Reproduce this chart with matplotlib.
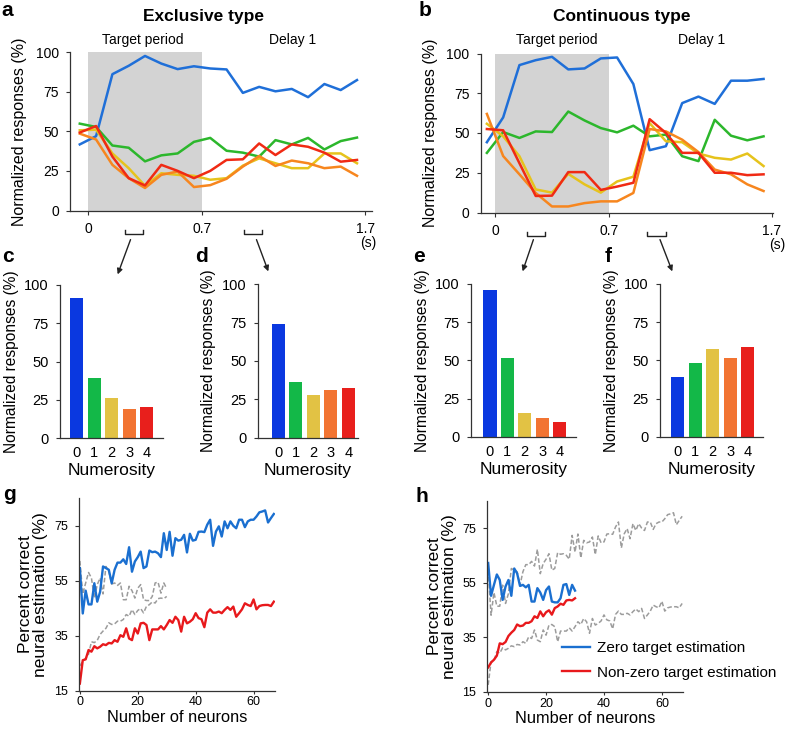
import matplotlib
matplotlib.use("Agg")
import matplotlib.pyplot as plt
from matplotlib.patches import FancyArrowPatch
import matplotlib.transforms as mtransforms

plt.rcParams['font.family'] = ['Liberation Sans', 'DejaVu Sans']

# ---- data ----
# time bins (s) for panels a and b
t_bins = [-0.05, 0.05, 0.15, 0.25, 0.35, 0.45, 0.55, 0.65, 0.75,
          0.85, 0.95, 1.05, 1.15, 1.25, 1.35, 1.45, 1.55, 1.65]

a_blue = [41.7, 46.9, 86.0, 91.3, 97.5, 92.7, 89.2, 91.0, 89.6, 89.0, 74.2, 78.0, 75.2, 76.7, 71.5, 79.8, 76.0, 82.3]
a_green = [54.8, 52.7, 41.0, 39.6, 31.0, 34.8, 36.0, 43.3, 45.8, 37.7, 36.5, 34.0, 44.4, 41.7, 45.8, 38.5, 43.8, 46.0]
a_yellow = [50.6, 51.0, 36.0, 26.7, 15.6, 23.5, 22.5, 21.9, 19.4, 20.4, 28.3, 32.9, 29.8, 26.7, 26.7, 36.0, 36.0, 29.8]
a_orange = [48.5, 44.8, 28.8, 20.4, 14.2, 22.5, 24.6, 14.8, 16.0, 20.0, 27.7, 34.4, 28.1, 31.5, 29.8, 26.7, 27.7, 21.9]
a_red = [49.2, 53.3, 34.0, 20.4, 15.8, 28.8, 25.0, 20.4, 25.0, 31.9, 32.3, 42.3, 35.0, 41.7, 40.2, 36.5, 30.8, 31.9]

b_blue = [44.2, 59.8, 92.7, 95.8, 97.9, 90.0, 90.6, 96.9, 97.5, 80.8, 39.2, 41.7, 68.8, 72.9, 68.3, 82.9, 82.9, 84.0]
b_green = [37.5, 50.6, 46.9, 51.0, 50.6, 63.5, 57.9, 53.1, 50.4, 54.6, 47.9, 49.0, 35.4, 32.3, 58.3, 48.3, 45.4, 47.9]
b_yellow = [55.8, 47.9, 35.4, 14.5, 12.5, 24.3, 17.7, 12.5, 19.5, 22.5, 56.2, 44.8, 44.2, 37.1, 34.4, 33.3, 37.1, 29.2]
b_orange = [62.0, 35.5, 24.0, 12.3, 3.8, 3.8, 5.9, 7.0, 7.0, 12.3, 52.5, 51.0, 45.8, 38.0, 27.0, 24.0, 17.7, 13.5]
b_red = [52.5, 51.7, 31.0, 10.4, 10.6, 25.4, 25.4, 14.2, 16.3, 18.7, 58.7, 50.0, 37.5, 37.5, 25.0, 25.0, 23.5, 24.0]

numerosity = [0, 1, 2, 3, 4]
c_vals = [91.5, 39.2, 26.2, 19.0, 20.1]
d_vals = [74.1, 36.1, 27.8, 30.9, 32.5]
e_vals = [96.1, 51.3, 15.3, 12.4, 9.8]
f_vals = [39.3, 48.5, 57.2, 51.3, 59.0]

# panel g (exclusive type) decoding accuracy vs number of neurons
g_zero = [59.6, 43.1, 51.4, 46.4, 46.4, 54.1, 47.4, 51.0, 60.2, 59.6,
          59.0, 54.1, 59.0, 61.6, 61.6, 62.8, 61.1, 67.2, 58.3, 62.0,
          63.6, 65.6, 59.6, 60.2, 66.0, 65.4, 65.6, 65.0, 63.6, 72.3,
          66.2, 72.8, 64.1, 70.5, 69.6, 69.9, 71.7, 65.3, 72.1, 69.6,
          69.9, 72.8, 72.9, 72.7, 75.4, 77.2, 67.7, 72.9, 74.8, 71.1,
          76.6, 74.1, 76.6, 75.0, 74.1, 77.2, 77.2, 74.5, 76.6, 77.2,
          77.2, 78.4, 79.9, 80.2, 80.6, 76.2, 77.8, 79.3]
g_nonzero = [17.6, 26.1, 26.4, 29.8, 29.2, 31.2, 30.4, 31.0, 31.9, 31.6,
             32.4, 32.2, 33.4, 32.8, 35.2, 34.6, 37.7, 34.0, 33.4, 37.7,
             35.8, 39.5, 39.7, 38.9, 33.4, 37.3, 37.3, 37.3, 38.5, 37.3,
             38.9, 40.7, 39.7, 41.9, 40.7, 36.5, 41.9, 39.5, 40.1, 41.0,
             43.2, 41.4, 41.0, 38.1, 43.4, 44.6, 43.4, 43.4, 43.8, 43.2,
             44.4, 45.4, 44.4, 45.6, 41.9, 43.2, 44.6, 46.8, 46.2, 45.8,
             48.2, 44.6, 45.8, 46.1, 46.2, 46.2, 45.8, 47.4]

# panel h (continuous type)
h_zero = [62.2, 50.2, 54.2, 58.0, 56.0, 48.7, 53.6, 56.0, 50.2, 60.2,
          58.4, 53.8, 54.2, 53.3, 54.2, 48.1, 48.1, 53.0, 51.4, 48.7,
          52.3, 53.6, 48.1, 47.8, 47.8, 49.3, 54.2, 54.5, 50.5, 54.2, 52.1]
h_nonzero = [24.0, 25.8, 26.8, 28.3, 32.8, 32.5, 33.3, 35.5, 36.7, 37.7,
             39.7, 39.1, 39.3, 40.3, 40.3, 40.9, 42.7, 42.1, 44.5, 42.7,
             44.2, 44.9, 43.3, 45.7, 46.3, 47.3, 46.9, 48.5, 48.7, 48.5, 49.3]

g_n = list(range(len(g_zero)))
h_n = list(range(len(h_zero)))

line_colors = ['#1f6fd8', '#2cb72c', '#e6c31c', '#f7861e', '#f02a14']
bar_colors = ['#0a38e0', '#13b848', '#e2c244', '#f27432', '#e81f1c']

# ---- layout helpers (pixels of the 787x730 canvas) ----
W, H = 787, 730


def rect(l, t, r, b):
    return [l / W, 1 - b / H, (r - l) / W, (b - t) / H]


def ftext(x, y, s, **kw):
    fig.text(x / W, 1 - y / H, s, **kw)


def style(ax, tick_size):
    for side in ['top', 'right']:
        ax.spines[side].set_visible(False)
    for side in ['left', 'bottom']:
        ax.spines[side].set_color('#333333')
        ax.spines[side].set_linewidth(0.9)
    ax.tick_params(labelsize=tick_size, length=3, width=0.8, color='#333333', pad=5)


fig = plt.figure(figsize=(7.87, 7.30), dpi=100)


# ---- panels a, b ----
def time_panel(r, xlim, series):
    ax = fig.add_axes(r)
    ax.axvspan(0, 0.7, color='#d3d3d3', lw=0, zorder=0)
    for vals, col in zip(series, line_colors):
        ax.plot(t_bins, vals, color=col, lw=1.8, zorder=2)
    ax.set_xlim(*xlim)
    ax.set_ylim(0, 100)
    ax.set_yticks([0, 25, 50, 75, 100])
    ax.set_xticks([0, 0.7, 1.7])
    ax.set_xticklabels(['0', '0.7', '1.7'])
    style(ax, 10)
    ax.set_ylabel('Normalized responses (%)', fontsize=11.5, labelpad=6)
    return ax


ax_a = time_panel(rect(70, 52, 372, 210.5), (-0.11, 1.742),
                  [a_blue, a_green, a_yellow, a_orange, a_red])
ax_b = time_panel(rect(480.7, 53.5, 773, 212.5), (-0.088, 1.708),
                  [b_blue, b_green, b_yellow, b_orange, b_red])

ftext(203, 17, 'Exclusive type', fontsize=12.5, fontweight='bold', ha='center', va='center')
ftext(622, 17, 'Continuous type', fontsize=12.5, fontweight='bold', ha='center', va='center')
ftext(143, 40, 'Target period', fontsize=10, ha='center', va='center')
ftext(293, 40, 'Delay 1', fontsize=10, ha='center', va='center')
ftext(557, 40, 'Target period', fontsize=10, ha='center', va='center')
ftext(702, 40, 'Delay 1', fontsize=10, ha='center', va='center')
ftext(368, 243, '(s)', fontsize=10, ha='center', va='center')
ftext(777, 245, '(s)', fontsize=10, ha='center', va='center')

# analysis windows marked under the time axis
a_windows = [(0.23, 0.34), (0.96, 1.07)]
b_windows = [(0.195, 0.305), (0.935, 1.05)]
for ax, wins in [(ax_a, a_windows), (ax_b, b_windows)]:
    tr = mtransforms.blended_transform_factory(ax.transData, ax.transAxes)
    for w0, w1 in wins:
        ax.plot([w0, w0, w1, w1], [-0.12, -0.15, -0.15, -0.12], color='#222222',
                lw=1.0, transform=tr, clip_on=False)

# arrows from the windows to the bar panels
arrows = [((131.5, 237), (116.7, 277)), ((255.5, 237), (269.3, 274)),
          ((534.3, 237), (521.7, 274)), ((659, 237), (673.3, 274))]
for (x0, y0), (x1, y1) in arrows:
    fig.add_artist(FancyArrowPatch((x0 / W, 1 - y0 / H), (x1 / W, 1 - y1 / H),
                                   transform=fig.transFigure, arrowstyle='-|>',
                                   mutation_scale=8, lw=1.0, color='#222222'))

# ---- panels c-f ----
bar_panels = [
    (rect(60, 285, 163, 438), (-0.95, 4.93), c_vals),
    (rect(257.7, 284.3, 358.3, 437.7), (-1.18, 4.57), d_vals),
    (rect(471, 284, 576, 436.7), (-1.09, 4.94), e_vals),
    (rect(660, 284, 763.3, 436.7), (-1.01, 4.89), f_vals),
]
for r, xl, vals in bar_panels:
    ax = fig.add_axes(r)
    ax.bar(numerosity, vals, width=0.76, color=bar_colors)
    ax.set_xlim(*xl)
    ax.set_ylim(0, 100)
    ax.set_yticks([0, 25, 50, 75, 100])
    ax.set_xticks(numerosity)
    style(ax, 10.5)
    ax.tick_params(axis='x', length=0, pad=6)
    ax.set_ylabel('Normalized responses (%)', fontsize=11.2, labelpad=4)
    ax.set_xlabel('Numerosity', fontsize=12.5, labelpad=2)


# ---- panels g, h ----
def decode_panel(r, main, other):
    ax = fig.add_axes(r)
    (z, nz, n), (oz, onz, on) = main, other
    ax.plot(on, oz, color='#9c9c9c', lw=1.1, dashes=(3, 1.5))
    ax.plot(on, onz, color='#9c9c9c', lw=1.1, dashes=(3, 1.5))
    ax.plot(n, z, color='#1a6fd0', lw=1.7, label='Zero target estimation')
    ax.plot(n, nz, color='#e8191c', lw=1.7, label='Non-zero target estimation')
    ax.set_xlim(-0.3, 67.4)
    ax.set_ylim(15, 85)
    ax.set_yticks([15, 35, 55, 75])
    ax.set_xticks([0, 20, 40, 60])
    style(ax, 9)
    ax.tick_params(axis='x', pad=1.5, length=2.5)
    ax.set_ylabel('Percent correct\nneural estimation (%)', fontsize=12.5, labelpad=4,
                  linespacing=1.0)
    ax.set_xlabel('Number of neurons', fontsize=11.8)
    return ax


ax_g = decode_panel(rect(79, 498.3, 275, 690.7), (g_zero, g_nonzero, g_n), (h_zero, h_nonzero, h_n))
ax_h = decode_panel(rect(487.3, 500.7, 683.3, 692), (h_zero, h_nonzero, h_n), (g_zero, g_nonzero, g_n))
ax_g.xaxis.set_label_coords(0.5, -0.1)
ax_h.xaxis.set_label_coords(0.5, -0.097)
ax_h.legend(handles=ax_h.lines[2:], loc='upper left', frameon=False, fontsize=11,
            bbox_to_anchor=(562 / W, 1 - 641 / H), bbox_transform=fig.transFigure,
            handlelength=1.8, handletextpad=0.5, labelspacing=0.7, borderpad=0,
            borderaxespad=0)

# ---- panel letters ----
for x, y, s in [(7.5, 10, 'a'), (425, 10, 'b'), (7.5, 256, 'c'), (201, 257, 'd'),
                (419, 256, 'e'), (608, 256, 'f'), (9, 494, 'g'), (421.7, 497, 'h')]:
    ftext(x, y, s, fontsize=15, fontweight='bold', ha='center', va='center')

fig.savefig('out.png', dpi=100)
